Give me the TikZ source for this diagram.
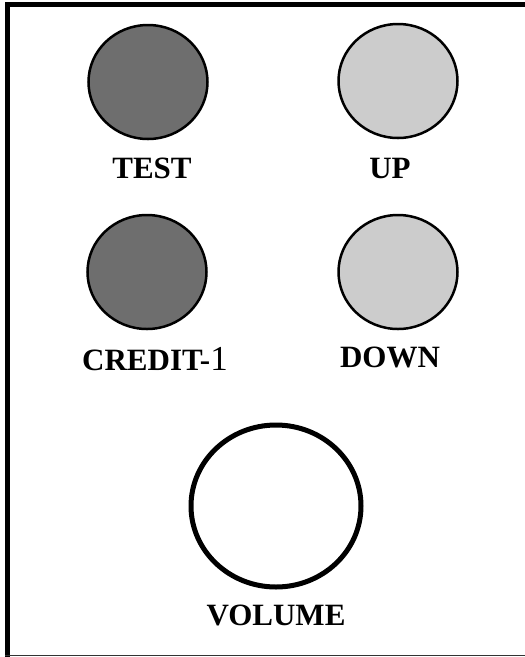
\documentclass[tikz,border=0pt]{standalone}
\usepackage{fontspec}
\setmainfont{Liberation Serif}
\usetikzlibrary{positioning,shapes.geometric}
\definecolor{darkbtn}{gray}{0.43}
\definecolor{lightbtn}{gray}{0.8}
\tikzset{
  btn/.style={draw,ellipse,line width=2.5pt,inner sep=0pt,minimum width=119pt,minimum height=114pt},
  lbl/.style={inner sep=0pt,font=\fontsize{31}{31}\selectfont\bfseries,text height=21pt,text depth=0pt}
}
\begin{document}
\begin{tikzpicture}[x=1pt,y=-1pt]
      \useasboundingbox (0,0) rectangle (525,657);

      % panel edges
      \draw[line width=5pt] (7.5,657) -- (7.5,4.5) -- (525,4.5);
      \draw[line width=1.5pt,black!80] (5,655.5) -- (525,655.5);

      \node[btn,fill=darkbtn] (test) at (148,82) {};
      \node[btn,fill=lightbtn] (up) at (398,81) {};
      \node[btn,fill=darkbtn] (credit) at (147,272) {};
      \node[btn,fill=lightbtn] (down) at (398,272) {};
      \node[btn,fill=white,line width=5pt,minimum width=170pt,minimum height=162pt] (volume) at (276,506) {};

      \node[lbl,below = 17pt of test,xshift=4pt] (testlbl) {TEST};
      \node[lbl,below = 18pt of up,xshift=-8pt] (uplbl) {UP};
      \node[lbl,below = 19pt of credit,xshift=8pt] (creditlbl) {CREDIT-{\mdseries\fontsize{35}{35}\selectfont 1}};
      \node[lbl,below = 16pt of down,xshift=-8pt] (downlbl) {DOWN};
      \node[lbl,below = 15pt of volume] (volumelbl) {VOLUME};

    \end{tikzpicture}
\end{document}
